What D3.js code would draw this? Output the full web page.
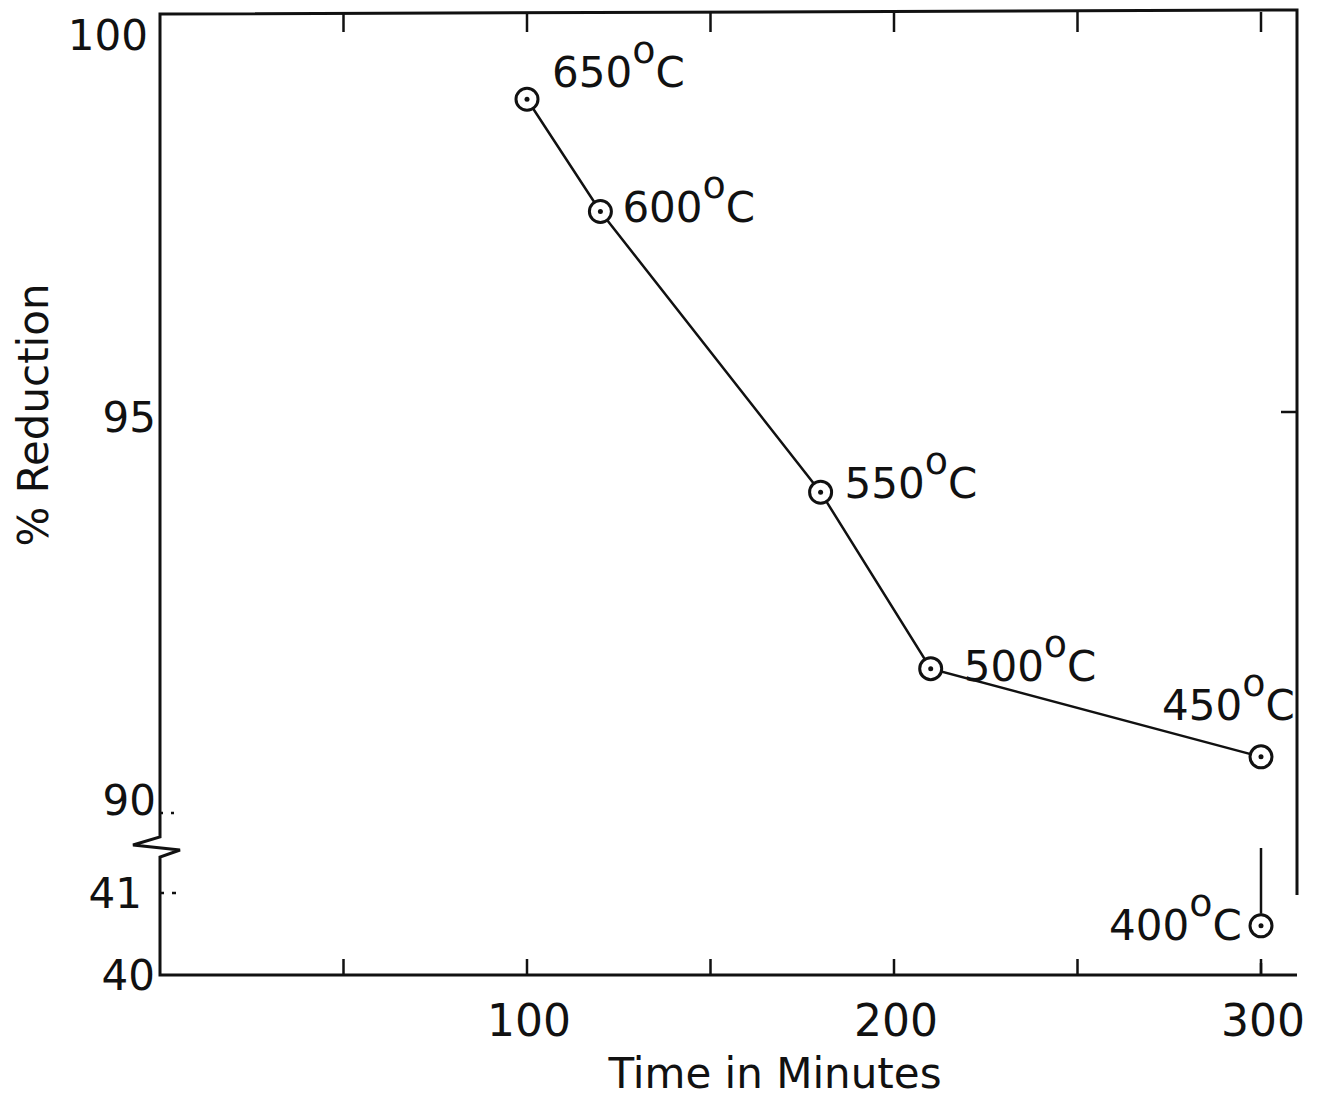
<!DOCTYPE html>
<html>
<head>
<meta charset="utf-8">
<script src="https://cdn.jsdelivr.net/npm/d3@7"></script>
<style>
  body { margin: 0; background: #fff; }
  text { font-family: "DejaVu Sans", sans-serif; fill: #111; }
</style>
</head>
<body>
<svg id="chart" width="1323" height="1099"></svg>
<script>
// readings
const times = [100, 120, 180, 210, 300];
const reductions = [98.9, 97.5, 94.0, 91.8, 90.7];
const temps = ["650", "600", "550", "500", "450"];
// the 400 C point sits on the broken lower part of the axis
const lowTime = [300];
const lowReduction = [40.6];
const lowTemp = ["400"];

const xTicks = [50, 100, 150, 200, 250, 300];
const xLabels = [100, 200, 300];
const upperTicks = [100, 95, 90];
const lowerTicks = [41, 40];

const LEFT = 160, RIGHT = 1297, TOP = 12, BOTTOM = 975;
const BREAK_Y = 848;

const svg = d3.select("#chart");

const x = d3.scaleLinear().domain([0, 300]).range([LEFT, 1261]);
const yUp = d3.scaleLinear().domain([90, 100]).range([813, 11]);
const yLow = d3.scaleLinear().domain([40, 41]).range([BOTTOM, 893]);

// frame
const frame = svg.append("g").attr("stroke", "#111").attr("fill", "none");
frame.append("path")
  .attr("stroke-width", 3)
  .attr("d", `M${LEFT},${BREAK_Y - 14} L${LEFT},${TOP + 2} L${RIGHT},${TOP - 2} L${RIGHT},${BOTTOM - 80}`);
frame.append("path")
  .attr("stroke-width", 3)
  .attr("d", `M${LEFT},${BREAK_Y + 12} L${LEFT},${BOTTOM} L${RIGHT},${BOTTOM}`);
// zigzag break on the y axis
frame.append("path")
  .attr("stroke-width", 3)
  .attr("d", `M${LEFT},${BREAK_Y - 14} L${LEFT},${BREAK_Y - 11} L${LEFT - 27},${BREAK_Y - 3} L${LEFT + 20},${BREAK_Y + 2} L${LEFT},${BREAK_Y + 9} L${LEFT},${BREAK_Y + 12}`);

// x ticks top and bottom
const tg = svg.append("g").attr("stroke", "#111").attr("stroke-width", 2.5);
tg.selectAll("line.bt").data(xTicks).enter().append("line")
  .attr("x1", d => x(d)).attr("x2", d => x(d))
  .attr("y1", BOTTOM).attr("y2", BOTTOM - 16);
tg.selectAll("line.tt").data(xTicks).enter().append("line")
  .attr("x1", d => x(d)).attr("x2", d => x(d))
  .attr("y1", TOP).attr("y2", TOP + 20);
// y ticks
tg.append("line")
  .attr("x1", RIGHT).attr("x2", RIGHT - 16)
  .attr("y1", yUp(95)).attr("y2", yUp(95));
tg.append("line").attr("stroke-dasharray", "3,8")
  .attr("x1", LEFT).attr("x2", LEFT + 22)
  .attr("y1", yUp(90)).attr("y2", yUp(90));
tg.append("line").attr("stroke-dasharray", "4,8")
  .attr("x1", LEFT).attr("x2", LEFT + 24)
  .attr("y1", yLow(41)).attr("y2", yLow(41));

// tick labels
svg.selectAll("text.xl").data(xLabels).enter().append("text")
  .attr("x", d => x(d) + 2).attr("y", 1036)
  .attr("text-anchor", "middle")
  .attr("font-size", 44)
  .text(d => d);

const yl = svg.append("g").attr("font-size", 42).attr("text-anchor", "end");
yl.selectAll("text.yu").data(upperTicks).enter().append("text")
  .attr("x", d => d === 100 ? 148 : 156)
  .attr("y", d => d === 100 ? 50 : d === 95 ? 432 : 815)
  .text(d => d);
yl.selectAll("text.yd").data(lowerTicks).enter().append("text")
  .attr("x", d => d === 41 ? 142 : 155)
  .attr("y", d => yLow(d) + 15)
  .text(d => d);

// axis titles
svg.append("text")
  .attr("x", 775).attr("y", 1088)
  .attr("text-anchor", "middle")
  .attr("font-size", 42)
  .text("Time in Minutes");
svg.append("text")
  .attr("transform", "translate(48,415) rotate(-90)")
  .attr("text-anchor", "middle")
  .attr("font-size", 42)
  .text("% Reduction");

// data line
const line = d3.line().x(d => x(d[0])).y(d => yUp(d[1]));
const pts = times.map((t, i) => [t, reductions[i]]);
svg.append("path")
  .datum(pts)
  .attr("d", line)
  .attr("fill", "none")
  .attr("stroke", "#111")
  .attr("stroke-width", 2.5);

// vertical mark above the 400 C point
svg.append("line")
  .attr("x1", x(lowTime[0])).attr("x2", x(lowTime[0]))
  .attr("y1", BREAK_Y).attr("y2", yLow(lowReduction[0]) - 12)
  .attr("stroke", "#111").attr("stroke-width", 2.5);
svg.append("line")
  .attr("x1", x(lowTime[0])).attr("x2", x(lowTime[0]))
  .attr("y1", BOTTOM).attr("y2", BOTTOM - 12)
  .attr("stroke", "#111").attr("stroke-width", 2.5);

const allPts = pts.map((p, i) => ({ cx: x(p[0]), cy: yUp(p[1]), temp: temps[i] }))
  .concat(lowTime.map((t, i) => ({ cx: x(t), cy: yLow(lowReduction[i]), temp: lowTemp[i] })));

const marks = svg.selectAll("g.pt").data(allPts).enter().append("g")
  .attr("transform", d => `translate(${d.cx},${d.cy})`);
marks.append("circle")
  .attr("r", 11)
  .attr("fill", "#fff")
  .attr("stroke", "#111")
  .attr("stroke-width", 3);
marks.append("circle")
  .attr("r", 2.5)
  .attr("fill", "#111");

// temperature labels, offsets
const labelOff = {
  "650": [25, -12],
  "600": [22, 10],
  "550": [24, 6],
  "500": [33, 12],
  "450": [-99, -37],
  "400": [-152, 14]
};
const lbl = svg.selectAll("text.tl").data(allPts).enter().append("text")
  .attr("x", d => d.cx + labelOff[d.temp][0])
  .attr("y", d => d.cy + labelOff[d.temp][1])
  .attr("font-size", 42);
lbl.append("tspan").text(d => d.temp);
lbl.append("tspan").attr("dy", -24).attr("font-size", 38).text("o");
lbl.append("tspan").attr("dy", 24).text("C");
</script>
</body>
</html>
